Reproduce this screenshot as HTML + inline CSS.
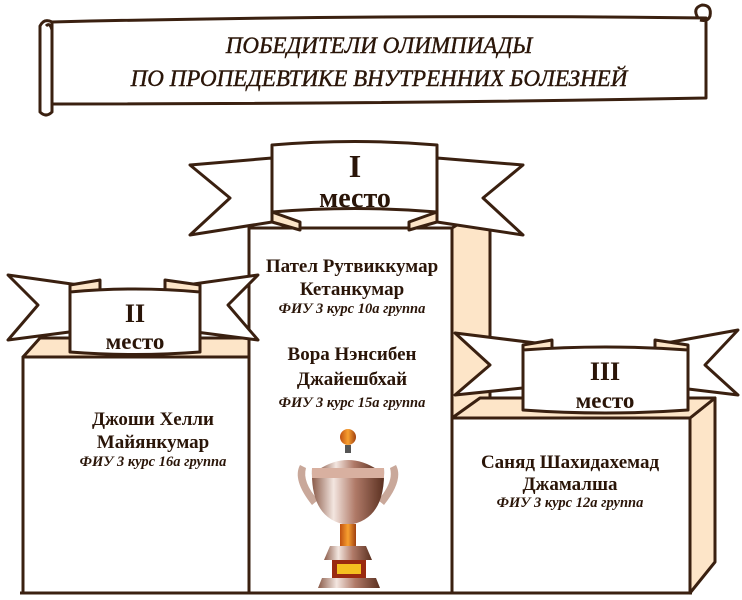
<!DOCTYPE html>
<html><head><meta charset="utf-8"><style>
html,body{margin:0;padding:0;background:#fff;}
svg{display:block;}
text{font-family:"Liberation Serif",serif;fill:#2a1508;}
</style></head><body>
<svg width="742" height="600" viewBox="0 0 742 600" xmlns="http://www.w3.org/2000/svg">
<defs>
<linearGradient id="cup" x1="0" x2="1"><stop offset="0" stop-color="#8a5a48"/><stop offset="0.3" stop-color="#f3e6e0"/><stop offset="0.6" stop-color="#b07a68"/><stop offset="1" stop-color="#5a3020"/></linearGradient>
<linearGradient id="gold" x1="0" x2="1"><stop offset="0" stop-color="#c05010"/><stop offset="0.5" stop-color="#f8a030"/><stop offset="1" stop-color="#a04010"/></linearGradient>
</defs>
<g stroke="#3a2010" stroke-width="3" stroke-linejoin="round">
<!-- scroll -->
<path d="M52,22 L52,112 Q46,118 40,112 L40,26 Q44,18 52,22 Z" fill="#fff"/>
<path d="M52,22 Q380,14 706,18 L706,98 Q380,104 52,104 Z" fill="#fff"/>
<path d="M698,18 Q692,8 702,5 Q712,5 710,16 Q708,22 700,20" fill="none"/>
<path d="M46,26 Q50,22 52,30" fill="none"/>

<!-- center box side -->
<polygon points="452,228 490,205 490,593 452,593" fill="#fde5c8"/>
<rect x="249" y="228" width="203" height="365" fill="#fff"/>
<!-- left box -->
<polygon points="23,357 40,338 249,338 249,357" fill="#fde5c8"/>
<rect x="23" y="357" width="226" height="236" fill="#fff"/>
<!-- right box -->
<polygon points="690,418 715,398 715,562 690,593" fill="#fde5c8"/>
<polygon points="452,418 480,398 715,398 690,418" fill="#fde5c8"/>
<rect x="452" y="418" width="238" height="175" fill="#fff"/>

<!-- ribbon I -->
<polygon points="272,158 190,165 230,198 190,235 272,222" fill="#fff"/>
<polygon points="437,158 523,165 483,198 523,235 437,222" fill="#fff"/>
<polygon points="272,212 300,222 300,230 272,222" fill="#fde5c8"/>
<polygon points="437,212 409,222 409,230 437,222" fill="#fde5c8"/>
<path d="M272,145 Q355,138 437,145 L437,212 Q355,205 272,212 Z" fill="#fff"/>

<!-- ribbon II -->
<polygon points="100,288 8,275 38,305 8,340 100,328" fill="#fff"/>
<polygon points="165,288 258,275 228,305 258,340 165,328" fill="#fff"/>
<polygon points="70,285 100,280 100,300 70,300" fill="#fde5c8"/>
<polygon points="200,285 165,280 165,300 200,300" fill="#fde5c8"/>
<path d="M70,292 Q135,286 200,292 L200,352 Q135,357 70,352 Z" fill="#fff"/>

<!-- ribbon III -->
<polygon points="552,345 455,333 490,365 455,395 552,385" fill="#fff"/>
<polygon points="655,345 738,330 705,365 738,395 655,385" fill="#fff"/>
<polygon points="523,345 552,340 552,360 523,360" fill="#fde5c8"/>
<polygon points="688,345 655,340 655,360 688,360" fill="#fde5c8"/>
<path d="M523,350 Q605,344 688,350 L688,410 Q605,416 523,410 Z" fill="#fff"/>

<!-- baseline -->
<line x1="20" y1="593" x2="292" y2="593"/>
<line x1="410" y1="593" x2="692" y2="593"/>
</g>

<!-- trophy -->
<g>
<circle cx="348" cy="437" r="8" fill="url(#gold)"/>
<rect x="345" y="445" width="6" height="8" fill="#555"/>
<path d="M318,470 Q348,450 378,470 Z" fill="url(#cup)"/>
<path d="M300,465 Q292,480 312,505 L318,500 Q302,482 306,468 Z" fill="#c9a89a"/>
<path d="M396,465 Q404,480 384,505 L378,500 Q394,482 390,468 Z" fill="#c9a89a"/>
<path d="M312,468 L384,468 Q386,520 348,525 Q310,520 312,468 Z" fill="url(#cup)"/>
<rect x="312" y="468" width="72" height="10" fill="#d8b0a0"/>
<rect x="340" y="524" width="16" height="22" fill="url(#gold)"/>
<path d="M330,546 L366,546 L372,560 L324,560 Z" fill="url(#cup)"/>
<rect x="332" y="560" width="34" height="18" fill="#9a2a10"/>
<rect x="337" y="564" width="24" height="10" fill="#f5c020"/>
<path d="M322,578 L376,578 L380,588 L318,588 Z" fill="url(#cup)"/>
</g>

<!-- texts -->
<g font-style="italic" font-size="23" text-anchor="middle" stroke="#2a1508" stroke-width="0.4">
<text x="379" y="53">ПОБЕДИТЕЛИ ОЛИМПИАДЫ</text>
<text x="379" y="86">ПО ПРОПЕДЕВТИКЕ ВНУТРЕННИХ БОЛЕЗНЕЙ</text>
</g>
<g text-anchor="middle" font-weight="bold">
<text x="355" y="177" font-size="32">I</text>
<text x="355" y="207" font-size="28">место</text>
<text x="135" y="322" font-size="26">II</text>
<text x="135" y="349" font-size="23">место</text>
<text x="605" y="380" font-size="26">III</text>
<text x="605" y="408" font-size="23">место</text>

<text x="352" y="272" font-size="19">Пател Рутвиккумар</text>
<text x="352" y="295" font-size="19">Кетанкумар</text>
<text x="352" y="313" font-size="14.5" font-style="italic">ФИУ 3 курс 10а группа</text>
<text x="352" y="360" font-size="19">Вора Нэнсибен</text>
<text x="352" y="385" font-size="19">Джайешбхай</text>
<text x="352" y="407" font-size="14.5" font-style="italic">ФИУ 3 курс 15а группа</text>

<text x="153" y="425" font-size="19">Джоши Хелли</text>
<text x="153" y="448" font-size="19">Майянкумар</text>
<text x="153" y="466" font-size="14.5" font-style="italic">ФИУ 3 курс 16а группа</text>

<text x="570" y="468" font-size="19">Саняд Шахидахемад</text>
<text x="570" y="490" font-size="19">Джамалша</text>
<text x="570" y="507" font-size="14.5" font-style="italic">ФИУ 3 курс 12а группа</text>
</g>
</svg>
</body></html>
